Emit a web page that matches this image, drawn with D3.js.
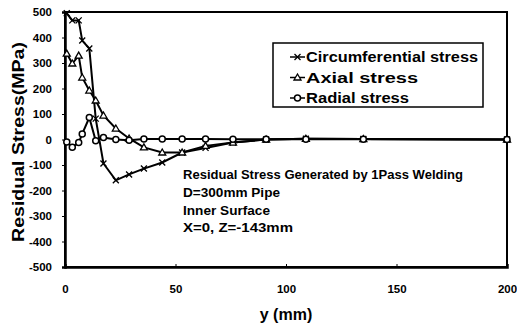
<!DOCTYPE html>
<html><head><meta charset="utf-8">
<script src="https://cdn.jsdelivr.net/npm/d3@7"></script>
<style>
html,body{margin:0;padding:0;background:#fff;}
text{font-family:"Liberation Sans",Arial,sans-serif;font-weight:bold;fill:#000;}
</style></head>
<body><svg id="c" width="517" height="329"></svg>
<script>
const xs = [0.8, 3.3, 6.2, 7.8, 11, 13.9, 17.4, 23, 29, 35.7, 44, 53, 63.6, 76, 91, 109, 135, 200];
const circumferential = [495, 467, 467, 388, 357, 82, -94, -160, -137, -114, -90, -51, -33, -12, 0, 3, 2, 0];
const axial = [337, 298, 329, 243, 192, 153, 94, 43, 4, -31, -51, -51, -25, -12, 0, 3, 2, 0];
const radial = [-10, -30, -12, 22, 86, -5, 8, 0, -3, 2, 2, 2, 2, 1, 1, 1, 1, 0];
const seriesNames = ["Circumferential stress", "Axial stress", "Radial stress"];
const xTicks = [0, 50, 100, 150, 200];
const yTicks = [500, 400, 300, 200, 100, 0, -100, -200, -300, -400, -500];
const notes = ["Residual Stress Generated by 1Pass Welding", "D=300mm Pipe", "Inner Surface", "X=0, Z=-143mm"];
const xTitle = "y (mm)";
const yTitle = "Residual Stress(MPa)";

const svg = d3.select("#c");
const L = 65, R = 507, T = 12, B = 267;
const x = d3.scaleLinear().domain([0, 200]).range([L, R]);
const y = d3.scaleLinear().domain([-500, 500]).range([B, T]);

// frame
svg.append("rect").attr("x", L).attr("y", T).attr("width", R - L).attr("height", B - T)
  .attr("fill", "none").attr("stroke", "#000").attr("stroke-width", 2);

// axes
const gy = svg.append("g").attr("transform", `translate(${L},0)`)
  .call(d3.axisLeft(y).tickValues(yTicks).tickSize(3).tickFormat(d => String(d)));
gy.select(".domain").attr("stroke-width", 2.5);
gy.selectAll("text").attr("font-size", 11.5).attr("x", -13).attr("font-family", "Liberation Sans").attr("font-weight", "bold");
const gx = svg.append("g").attr("transform", `translate(0,${B})`)
  .call(d3.axisBottom(x).tickValues(xTicks).tickSize(-3).tickFormat(d => String(d)));
gx.select(".domain").attr("stroke-width", 2.5);
gx.selectAll("text").attr("font-size", 11.5).attr("y", 18).attr("font-family", "Liberation Sans").attr("font-weight", "bold");

// titles
svg.append("text").attr("x", 286).attr("y", 320).attr("text-anchor", "middle").attr("font-size", 16).text(xTitle);
svg.append("text").attr("transform", "translate(24,142) rotate(-90)").attr("text-anchor", "middle")
  .attr("font-size", 17).attr("textLength", 200).attr("lengthAdjust", "spacingAndGlyphs").text(yTitle);

const line = d3.line().x(d => x(d[0])).y(d => y(d[1]));
const data = [circumferential, axial, radial].map(v => xs.map((xx, i) => [xx, v[i]]));
const kinds = ["x", "tri", "circ"];

function marker(g, kind, cx, cy) {
  if (kind === "x") {
    g.append("path").attr("d", `M${cx-3},${cy-3}L${cx+3},${cy+3}M${cx-3},${cy+3}L${cx+3},${cy-3}`)
      .attr("stroke", "#000").attr("stroke-width", 1.3).attr("fill", "none");
  } else if (kind === "tri") {
    g.append("path").attr("d", `M${cx},${cy-3.5}L${cx+3.5},${cy+2.5}L${cx-3.5},${cy+2.5}Z`)
      .attr("stroke", "#000").attr("stroke-width", 1.3).attr("fill", "#fff");
  } else {
    g.append("circle").attr("cx", cx).attr("cy", cy).attr("r", 3)
      .attr("stroke", "#000").attr("stroke-width", 1.5).attr("fill", "#fff");
  }
}

data.forEach((d, k) => {
  svg.append("path").datum(d).attr("d", line).attr("fill", "none").attr("stroke", "#000").attr("stroke-width", 2);
});
data.forEach((d, k) => {
  const g = svg.append("g");
  d.forEach(p => marker(g, kinds[k], x(p[0]), y(p[1])));
});

// legend
const legendWidths = [172, 112, 103];
const lg = svg.append("g");
lg.append("rect").attr("x", 273).attr("y", 43).attr("width", 210).attr("height", 64)
  .attr("fill", "#fff").attr("stroke", "#000").attr("stroke-width", 1.5);
seriesNames.forEach((n, i) => {
  const yy = 57 + i * 20.5;
  lg.append("line").attr("x1", 290).attr("x2", 305).attr("y1", yy).attr("y2", yy).attr("stroke", "#000").attr("stroke-width", 1.5);
  marker(lg, kinds[i], 297.5, yy);
  lg.append("text").attr("x", 306).attr("y", yy + 5).attr("font-size", 14)
    .attr("textLength", legendWidths[i]).attr("lengthAdjust", "spacingAndGlyphs").text(n);
});

// notes
const noteWidths = [280, 97, 87, 110];
notes.forEach((t, i) => {
  svg.append("text").attr("x", 183).attr("y", 179 + i * 17.8).attr("font-size", 13)
    .attr("textLength", noteWidths[i]).attr("lengthAdjust", "spacingAndGlyphs").text(t);
});
</script></body></html>
